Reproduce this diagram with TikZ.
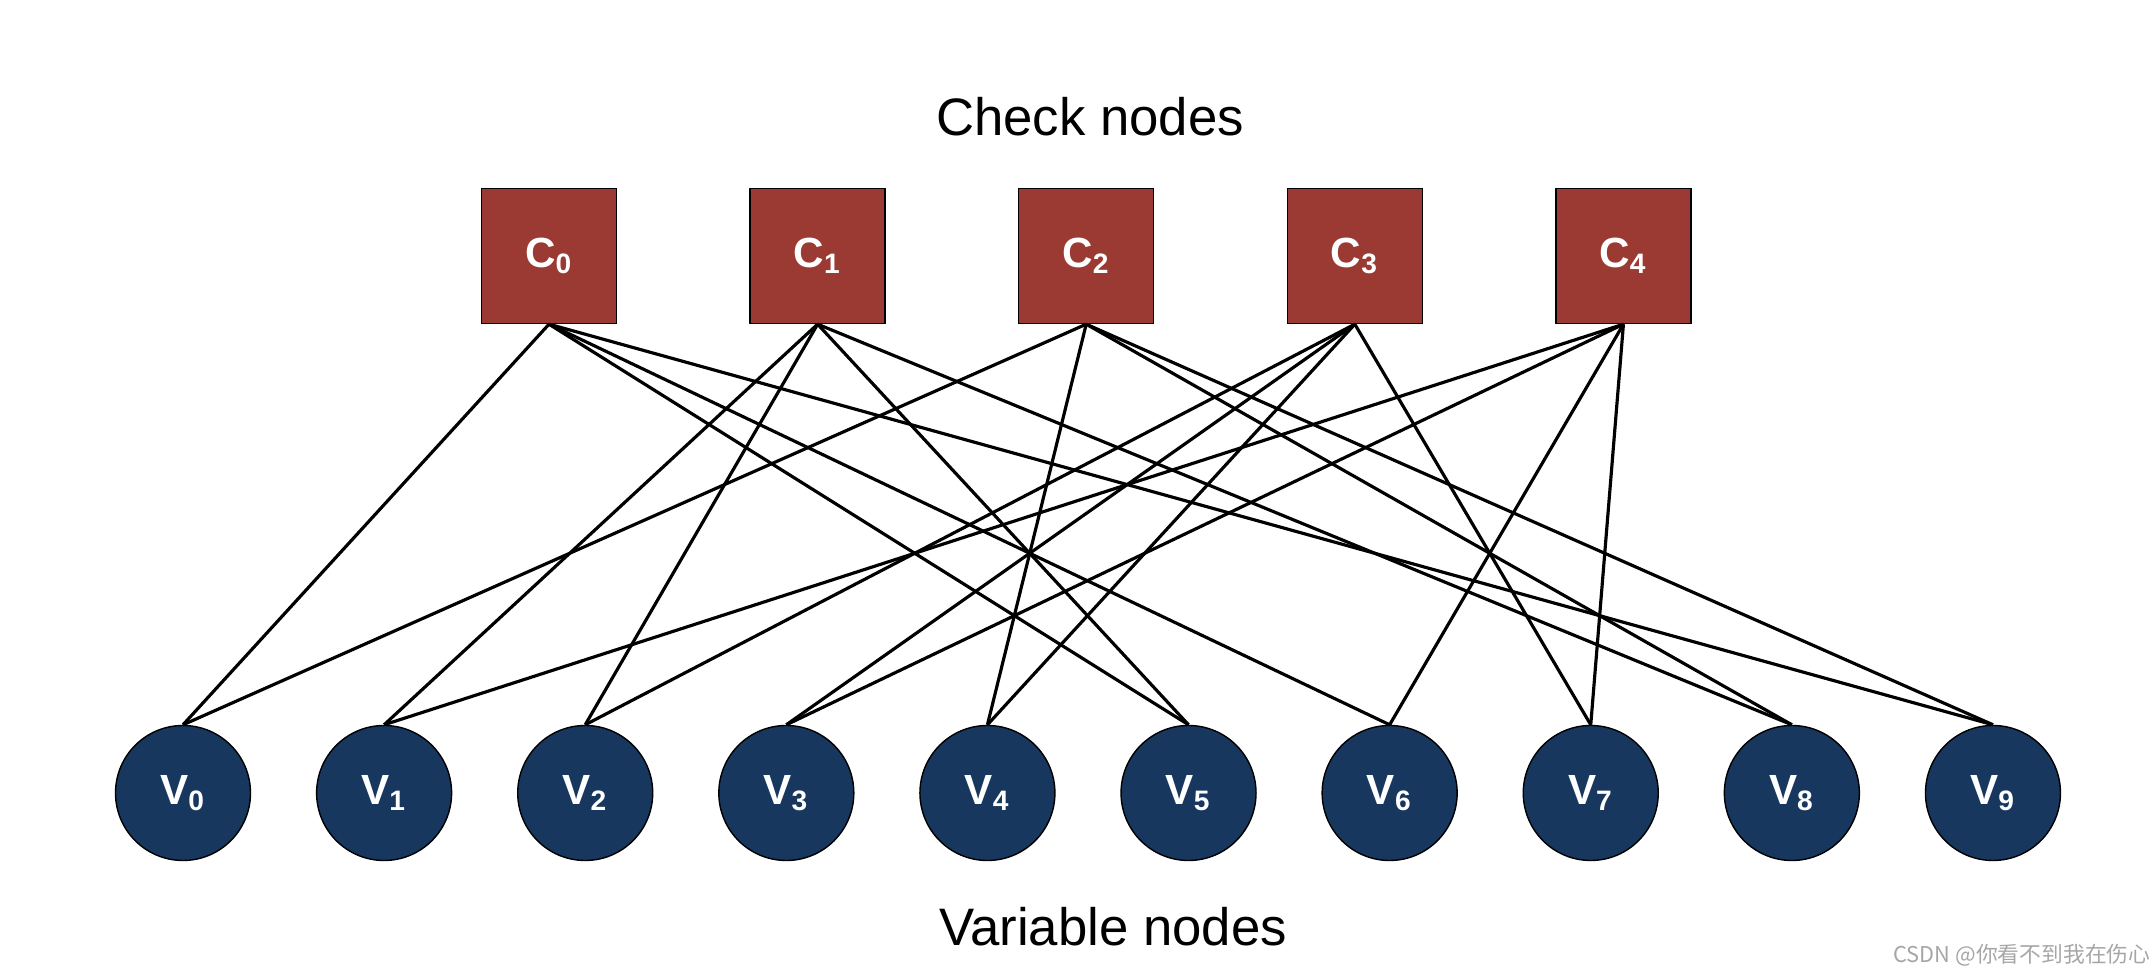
\documentclass[tikz,border=0pt]{standalone}
\usepackage{fontspec}
\setmainfont{Liberation Sans}
\newfontfamily\cjk{Noto Sans CJK SC}
\usepackage{tikz}
\usetikzlibrary{positioning}

\definecolor{checkred}{HTML}{9B3A32}
\definecolor{varblue}{HTML}{17375E}

\begin{document}
\begin{tikzpicture}[
    checknode/.style={draw=black, fill=checkred, rectangle, minimum size=1.35cm, inner sep=0pt, text=white, font=\fontsize{12}{14}\selectfont\bfseries},
    varnode/.style={draw=black, fill=varblue, circle, minimum size=1.35cm, inner sep=0pt, text=white, font=\fontsize{12}{14}\selectfont\bfseries},
    edge/.style={line width=0.9pt, black},
    title/.style={font=\fontsize{15}{18}\selectfont}
]
        \useasboundingbox (0,0) rectangle (21.53,9.73);
        % Tanner graph: check nodes on top, variable nodes below
        \node[checknode] (c0) at (5.49,7.17) {C\textsubscript{0}};
        \node[checknode, right=1.322cm of c0] (c1) {C\textsubscript{1}};
        \node[checknode, right=1.322cm of c1] (c2) {C\textsubscript{2}};
        \node[checknode, right=1.322cm of c2] (c3) {C\textsubscript{3}};
        \node[checknode, right=1.322cm of c3] (c4) {C\textsubscript{4}};

        \node[varnode] (v0) at (1.83,1.80) {V\textsubscript{0}};
        \node[varnode, right=0.647cm of v0] (v1) {V\textsubscript{1}};
        \node[varnode, right=0.647cm of v1] (v2) {V\textsubscript{2}};
        \node[varnode, right=0.647cm of v2] (v3) {V\textsubscript{3}};
        \node[varnode, right=0.647cm of v3] (v4) {V\textsubscript{4}};
        \node[varnode, right=0.647cm of v4] (v5) {V\textsubscript{5}};
        \node[varnode, right=0.647cm of v5] (v6) {V\textsubscript{6}};
        \node[varnode, right=0.647cm of v6] (v7) {V\textsubscript{7}};
        \node[varnode, right=0.647cm of v7] (v8) {V\textsubscript{8}};
        \node[varnode, right=0.647cm of v8] (v9) {V\textsubscript{9}};

        \node[title] (checklbl) at (10.90,8.56) {Check nodes};
        \node[title] (varlbl) at (11.13,0.46) {Variable nodes};
        \node[text=gray!70, font=\cjk\fontsize{6.2}{7}\selectfont] (mark) at (20.22,0.18) {CSDN @你看不到我在伤心};

        \draw[edge] (c0.south) -- (v0.north);
        \draw[edge] (c0.south) -- (v5.north);
        \draw[edge] (c0.south) -- (v6.north);
        \draw[edge] (c0.south) -- (v9.north);
        \draw[edge] (c1.south) -- (v1.north);
        \draw[edge] (c1.south) -- (v2.north);
        \draw[edge] (c1.south) -- (v5.north);
        \draw[edge] (c1.south) -- (v8.north);
        \draw[edge] (c2.south) -- (v0.north);
        \draw[edge] (c2.south) -- (v4.north);
        \draw[edge] (c2.south) -- (v8.north);
        \draw[edge] (c2.south) -- (v9.north);
        \draw[edge] (c3.south) -- (v2.north);
        \draw[edge] (c3.south) -- (v3.north);
        \draw[edge] (c3.south) -- (v4.north);
        \draw[edge] (c3.south) -- (v7.north);
        \draw[edge] (c4.south) -- (v1.north);
        \draw[edge] (c4.south) -- (v3.north);
        \draw[edge] (c4.south) -- (v6.north);
        \draw[edge] (c4.south) -- (v7.north);
\end{tikzpicture}
\end{document}
